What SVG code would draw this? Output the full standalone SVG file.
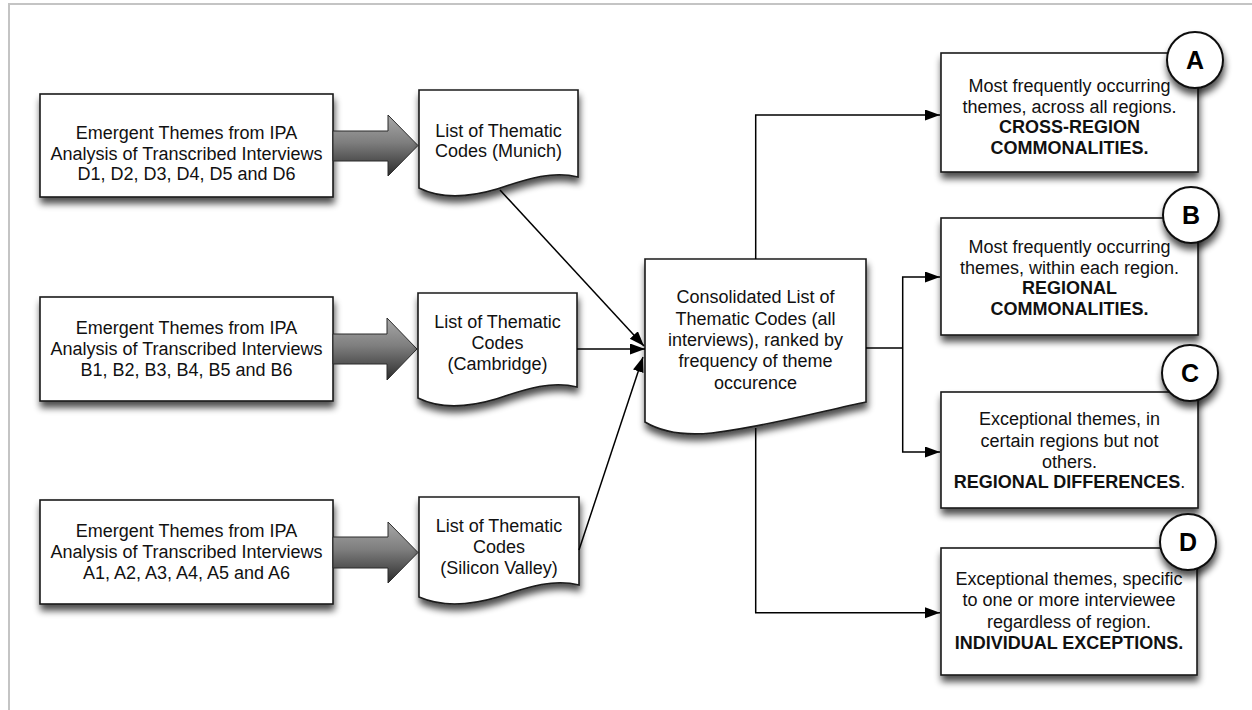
<svg xmlns="http://www.w3.org/2000/svg" width="1252" height="710" viewBox="0 0 1252 710">
  <style>
    .box { fill: #ffffff; stroke: #1a1a1a; stroke-width: 1.6; }
    .badge { fill: #ffffff; stroke: #111111; stroke-width: 2; }
    .t { font-family: "Liberation Sans", Arial, sans-serif; font-size: 18px; fill: #111111; text-anchor: middle; }
    .b { font-weight: bold; }
    .letter { font-family: "Liberation Sans", Arial, sans-serif; font-size: 25px; font-weight: bold; fill: #000000; text-anchor: middle; }
    .wire { fill: none; stroke: #000000; stroke-width: 1.5; }
    .wire-a { fill: none; stroke: #000000; stroke-width: 1.5; marker-end: url(#head); }
    .block { fill: url(#blockGrad); stroke: #2a2a2a; stroke-width: 1; }
  </style>
  <defs>
    <filter id="shadow" x="-20%" y="-20%" width="140%" height="160%">
      <feGaussianBlur in="SourceAlpha" stdDeviation="3.5"/>
      <feOffset dx="1" dy="6" result="off"/>
      <feComponentTransfer><feFuncA type="linear" slope="0.7"/></feComponentTransfer>
      <feMerge><feMergeNode/><feMergeNode in="SourceGraphic"/></feMerge>
    </filter>
    <linearGradient id="blockGrad" x1="0" y1="0" x2="0" y2="1">
      <stop offset="0" stop-color="#a8a8a8"/>
      <stop offset="0.45" stop-color="#7e7e7e"/>
      <stop offset="1" stop-color="#2c2c2c"/>
    </linearGradient>
    <marker id="head" markerUnits="userSpaceOnUse" markerWidth="17" markerHeight="12" refX="15" refY="5.5" orient="auto">
      <path d="M0,0 L15,5.5 L0,11 z" fill="#000000"/>
    </marker>
  </defs>

  <rect width="1252" height="710" fill="#ffffff"/>
  <!-- page frame -->
  <rect x="9" y="4" width="1300" height="800" fill="none" stroke="#c4c4c4" stroke-width="2"/>

  <!-- interview sources -->
  <g id="src-d">
    <rect class="box" x="40" y="94" width="293" height="103" filter="url(#shadow)"/>
    <text class="t" x="186.5" y="139.3">Emergent Themes from IPA</text>
    <text class="t" x="186.5" y="159.8">Analysis of Transcribed Interviews</text>
    <text class="t" x="186.5" y="180">D1, D2, D3, D4, D5 and D6</text>
  </g>
  <g id="src-b">
    <rect class="box" x="40" y="297" width="293" height="104" filter="url(#shadow)"/>
    <text class="t" x="186.5" y="334">Emergent Themes from IPA</text>
    <text class="t" x="186.5" y="355">Analysis of Transcribed Interviews</text>
    <text class="t" x="186.5" y="376">B1, B2, B3, B4, B5 and B6</text>
  </g>
  <g id="src-a">
    <rect class="box" x="40" y="500" width="293" height="104" filter="url(#shadow)"/>
    <text class="t" x="186.5" y="536.7">Emergent Themes from IPA</text>
    <text class="t" x="186.5" y="558">Analysis of Transcribed Interviews</text>
    <text class="t" x="186.5" y="578.5">A1, A2, A3, A4, A5 and A6</text>
  </g>

  <!-- block arrows -->
  <g id="block-arrows">
    <path class="block" d="M333,131 H388 V115 L418,145.5 L388,176 V161 H333 Z"/>
    <path class="block" d="M333,334 H387 V318 L417,349 L387,380 V364 H333 Z"/>
    <path class="block" d="M333,537 H388 V522 L418,552.5 L388,583 V568 H333 Z"/>
  </g>

  <!-- thematic code lists -->
  <g id="list-munich">
    <path class="box" filter="url(#shadow)" d="M419,90 H578 V177 C550,170 522,181 497,189 C470,197 441,199 419,188 Z"/>
    <text class="t" x="498.5" y="136.5">List of Thematic</text>
    <text class="t" x="498.5" y="157">Codes (Munich)</text>
  </g>
  <g id="list-cambridge">
    <path class="box" filter="url(#shadow)" d="M418,293 H577 V387 C549,380 521,391 496,399 C469,407 440,409 418,398 Z"/>
    <text class="t" x="497.5" y="328">List of Thematic</text>
    <text class="t" x="497.5" y="349">Codes</text>
    <text class="t" x="497.5" y="370">(Cambridge)</text>
  </g>
  <g id="list-silicon-valley">
    <path class="box" filter="url(#shadow)" d="M419,497 H579 V585 C551,578 523,589 498,597 C471,605 442,607 419,597 Z"/>
    <text class="t" x="499" y="532">List of Thematic</text>
    <text class="t" x="499" y="553">Codes</text>
    <text class="t" x="499" y="574">(Silicon Valley)</text>
  </g>

  <!-- consolidated list -->
  <g id="consolidated">
    <path class="box" filter="url(#shadow)" d="M645,259 H866 V402 C826,410 770,426 712,433 C682,436 660,431 645,422 Z"/>
    <text class="t" x="755.5" y="303">Consolidated List of</text>
    <text class="t" x="755.5" y="324.5">Thematic Codes (all</text>
    <text class="t" x="755.5" y="346">interviews), ranked by</text>
    <text class="t" x="755.5" y="367.3">frequency of theme</text>
    <text class="t" x="755.5" y="388.5">occurence</text>
  </g>

  <!-- connectors -->
  <g id="connectors">
    <path class="wire-a" d="M500,190 L644,346"/>
    <path class="wire-a" d="M577,349 L645,349"/>
    <path class="wire-a" d="M579,550 L643,357"/>
    <path class="wire-a" d="M755.7,259 V115 H940"/>
    <path class="wire" d="M866,348 H902.7"/>
    <path class="wire-a" d="M902.7,348 V277 H940"/>
    <path class="wire-a" d="M902.7,348 V452 H940"/>
    <path class="wire-a" d="M755.7,428 V612.7 H940"/>
  </g>

  <!-- outcome categories -->
  <g id="out-a">
    <rect class="box" x="941" y="53" width="257" height="119" filter="url(#shadow)"/>
    <text class="t" x="1069.5" y="91.5">Most frequently occurring</text>
    <text class="t" x="1069.5" y="112.5">themes, across all regions.</text>
    <text class="t b" x="1069.5" y="133">CROSS-REGION</text>
    <text class="t b" x="1069.5" y="153.5">COMMONALITIES.</text>
    <circle class="badge" cx="1195" cy="60" r="28" filter="url(#shadow)"/>
    <text class="letter" x="1195" y="69">A</text>
  </g>
  <g id="out-b">
    <rect class="box" x="941" y="218" width="257" height="117" filter="url(#shadow)"/>
    <text class="t" x="1069.5" y="253">Most frequently occurring</text>
    <text class="t" x="1069.5" y="274">themes, within each region.</text>
    <text class="t b" x="1069.5" y="294">REGIONAL</text>
    <text class="t b" x="1069.5" y="314.5">COMMONALITIES.</text>
    <circle class="badge" cx="1191" cy="215" r="28" filter="url(#shadow)"/>
    <text class="letter" x="1191" y="224">B</text>
  </g>
  <g id="out-c">
    <rect class="box" x="941" y="392" width="257" height="116" filter="url(#shadow)"/>
    <text class="t" x="1069.5" y="425">Exceptional themes, in</text>
    <text class="t" x="1069.5" y="446.5">certain regions but not</text>
    <text class="t" x="1069.5" y="467.5">others.</text>
    <text class="t" x="1069.5" y="488"><tspan class="b">REGIONAL DIFFERENCES</tspan>.</text>
    <circle class="badge" cx="1190" cy="373" r="28" filter="url(#shadow)"/>
    <text class="letter" x="1190" y="382">C</text>
  </g>
  <g id="out-d">
    <rect class="box" x="941" y="548" width="256" height="127" filter="url(#shadow)"/>
    <text class="t" x="1069" y="584.5">Exceptional themes, specific</text>
    <text class="t" x="1069" y="606">to one or more interviewee</text>
    <text class="t" x="1069" y="627.5">regardless of region.</text>
    <text class="t b" x="1069" y="649">INDIVIDUAL EXCEPTIONS.</text>
    <circle class="badge" cx="1188" cy="542" r="28" filter="url(#shadow)"/>
    <text class="letter" x="1188" y="551">D</text>
  </g>
</svg>
